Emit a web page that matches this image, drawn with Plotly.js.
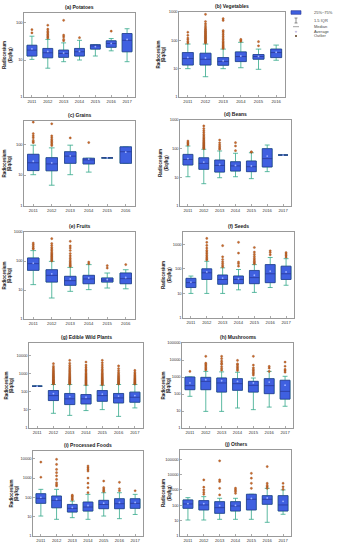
<!DOCTYPE html>
<html><head><meta charset="utf-8">
<script src="https://cdn.plot.ly/plotly-3.0.1.min.js"></script>
<style>html,body{margin:0;padding:0;background:#fff}#chart{width:337px;height:550px}</style>
</head><body><div id="chart"></div><script>
// ---------- DATA ----------
const years7 = ['2011','2012','2013','2014','2015','2016','2017'];
const years6 = ['2011','2012','2013','2014','2015','2016'];

// (a) Potatoes
const potQ1 = [12.8, 11.5, 11.8, 12.8, 19.7, 22, 16.7];
const potMed = [18.5, 15.7, 15, 16.7, 24, 28, 34];
const potQ3 = [25, 20.5, 18.5, 20.5, 26, 33, 52];
const potLo = [10.4, 6, 9, 10, 12.8, 17.7, 9];
const potHi = [44, 36, 29, 34, 26, 38, 70];
const potMean = [20, 17, 15.5, 17, 23, 28, 36];
const potOut = [[54,66],[39,42,46,50,55,60,68,87],[33,36,42,47,118],[40],[],[60],[]];

// (b) Vegetables
const vegQ1 = [13.5, 13.5, 13.2, 17.8, 21.6, 24.6];
const vegMed = [22.7, 21.5, 17.8, 26.8, 26.8, 37];
const vegQ3 = [37, 35, 24.6, 39, 31.6, 49];
const vegLo = [10, 5.2, 10, 10.8, 9.5, 19.8];
const vegHi = [74, 74, 49, 85, 49, 68];
const vegMean = [25, 24, 19, 28, 27, 38];
const vegOut = [[80,90,105,120,150,193],
  [80,85,90,96,102,110,118,126,135,145,155,168,180,195,210,230,250,280,320,380,460,826],
  [52,56,61,67,74,82,92,105,120,140,165,195,220,505,580],[92,100,108],[64,90],[]];

// (c) Grains
const graQ1 = [14, 13.8, 24, 23, 36, 24];
const graMed = [25, 23, 41, 31, 36, 57];
const graQ3 = [47, 36.6, 57, 35, 36, 82];
const graLo = [10.3, 4.7, 10.3, 12.5, 36, 24];
const graHi = [93, 76, 93, 35, 36, 82];
const graMean = [28, 25, 42, 33, 36, 55];
const graOut = [[112,120,133,160,185,218,516],[90,100,112,125,140,160,185,457],[159],[113],[],[]];

// (d) Beans
const beaQ1 = [27, 19, 15.3, 16.6, 15.8, 23, 60];
const beaMed = [42, 30.7, 26, 25, 23.5, 45, 60];
const beaQ3 = [63, 48, 40, 35, 37, 100, 60];
const beaLo = [10.5, 6, 9.7, 10.5, 9, 15.8, 60];
const beaHi = [124, 95, 83, 69, 72, 134, 60];
const beaMean = [45, 34, 28, 26, 25, 55, 60];
const beaOut = [[135,150,165,185],
  [100,106,112,120,128,137,147,158,170,185,200,220,245,275,310,360,420,500,620],
  [95,105,118,135,160,200],[85,124,162],[75,78],[],[]];

// (e) Fruits
const fruQ1 = [47.6, 18.8, 14.5, 16.5, 18.8, 16.5];
const fruMed = [81, 32, 21, 24, 22, 24.6];
const fruQ3 = [127, 50, 29.6, 32, 26, 38.5];
const fruLo = [15.3, 5.3, 9, 10.3, 11.7, 11];
const fruHi = [228, 97, 60, 75, 38.5, 50];
const fruMean = [85, 36, 24, 26, 23, 27];
const fruOut = [[260,280,320,366,417],
  [100,108,117,127,138,150,165,180,200,225,255,290,340,400,590],
  [65,70,77,85,95,108,125,150,180,230,280,330,477],[81,92],[57,69],[75]];

// (f) Seeds
const seeQ1 = [17.4, 37, 23.7, 25, 25, 27.5, 37];
const seeMed = [27.5, 69, 37, 37, 44, 63, 63];
const seeQ3 = [41, 100, 55.9, 51, 86, 149, 128];
const seeLo = [10, 10, 10, 14, 11, 17.4, 21.5];
const seeHi = [51, 203, 110, 94, 149, 290, 260];
const seeMean = [29, 75, 42, 40, 55, 80, 75];
const seeOut = [[],[230,260,300,350,410,480,560,700,900,1200,1740],[120,140,165,195,240,310,880],
  [128,163,190,437,1200],[160,180,200,230,270,320,390,480,740],[372,460,540],[300,350,400,460]];

// (g) Edible Wild Plants
const ewpQ1 = [206, 33, 19.8, 21.5, 30, 24.4, 26.6];
const ewpMed = [206, 62, 41, 41, 62, 46, 50];
const ewpQ3 = [206, 118, 81, 71, 118, 81, 96];
const ewpLo = [206, 6.5, 5, 9.2, 10.4, 4.4, 12.9];
const ewpHi = [206, 254, 254, 230, 230, 254, 254];
const ewpMean = [206, 80, 55, 50, 75, 58, 62];
const ewpOut = [[],
  [270,290,310,340,370,400,440,480,530,590,650,720,800,900,1000,1150,1300,1500,1750,2100,2600,3600],
  [270,290,320,350,380,420,460,510,570,640,720,820,950,1100,1300,1550,1850,2300,2900,3800,5500],
  [250,270,300,330,360,400,440,490,550,620,700,800,920,1050,1250,1500,1800,2300,3000,4450],
  [250,270,300,330,360,400,440,490,550,620,700,800,920,1050,1250,1500,1800,2300,3000,4000,5500],
  [270,290,320,350,390,430,480,540,610,700,800,950,1150,1450,1900,2700],
  [270,290,310,340,370,410,450,500,560,630,720,830,980,1200,1530]];

// (h) Mushrooms
const musQ1 = [180, 180, 130, 165, 130, 105, 50];
const musMed = [309, 555, 445, 405, 325, 309, 143];
const musQ3 = [1000, 950, 870, 800, 555, 800, 640];
const musLo = [73, 9.5, 9.5, 15, 12, 17, 19];
const musHi = [1000, 2140, 2000, 1900, 870, 2140, 1100];
const musMean = [450, 700, 600, 550, 450, 500, 330];
const musOut = [[2140],[2600,3100,3700,4500,5500,6500,16500],[2500,3100,4000,5500,6500,8500,12000,16500],
  [2400,2900,3500,4200,5200,6000,9500],[1300,1600,1900,2300,2800,3500,5000,16500],
  [2140,3300,4200],[1900,2300,2800,4300,7500]];

// (i) Processed Foods
const proQ1 = [49, 29, 17.4, 19.6, 26, 26, 27];
const proMed = [89, 70, 27, 31.6, 43, 47, 49];
const proQ3 = [155, 117, 43, 57, 70, 85, 85];
const proLo = [10.8, 7.3, 8.9, 7.3, 10.8, 7.9, 13];
const proHi = [260, 260, 64, 143, 174, 174, 143];
const proMean = [100, 80, 30, 38, 50, 55, 55];
const proOut = [[1100,6700],[390,470,570,850,1300,1900,2800,5100,9300],[75,85,100,115,130],
  [175,320,540,1000,2300,2800,3400,4200],[200,230,270,320,700],[220,280,600],[220]];

// (j) Others
const othQ1 = [63.5, 50, 30, 42.6, 50, 116, 42.6];
const othMed = [122, 105, 70, 90, 247, 247, 105];
const othQ3 = [223, 202, 172, 172, 520, 425, 425];
const othLo = [11, 11, 12.2, 12.2, 12.2, 7.8, 26];
const othHi = [315, 365, 285, 285, 520, 1270, 1000];
const othMean = [130, 130, 95, 100, 280, 300, 180];
const othOut = [[],[520,700,1000,1500,4500],[470,1270,3500,4500,78000],[600,800,1000,1300],
  [1270,2700,5800,12000],[1270,1600,2000,2700,33000],[1100,1600,2700]];

const panelTitles = ['(a) Potatoes','(b) Vegetables','(c) Grains','(d) Beans','(e) Fruits',
  '(f) Seeds','(g) Edible Wild Plants','(h) Mushrooms','(i) Processed Foods','(j) Others'];
const tickVals = [1,10,100,1000,10000,100000];
const tickText = ['1','10','100','1000','10000','100000'];

// ---------- PANELS ----------
const panels = [
  {years: years7, q1: potQ1, med: potMed, q3: potQ3, lo: potLo, hi: potHi, mean: potMean, out: potOut, top: 2.27, nt: 3},
  {years: years6, q1: vegQ1, med: vegMed, q3: vegQ3, lo: vegLo, hi: vegHi, mean: vegMean, out: vegOut, top: 3.0, nt: 4},
  {years: years6, q1: graQ1, med: graMed, q3: graQ3, lo: graLo, hi: graHi, mean: graMean, out: graOut, top: 2.75, nt: 3},
  {years: years7, q1: beaQ1, med: beaMed, q3: beaQ3, lo: beaLo, hi: beaHi, mean: beaMean, out: beaOut, top: 3.0, nt: 4},
  {years: years6, q1: fruQ1, med: fruMed, q3: fruQ3, lo: fruLo, hi: fruHi, mean: fruMean, out: fruOut, top: 3.0, nt: 4},
  {years: years7, q1: seeQ1, med: seeMed, q3: seeQ3, lo: seeLo, hi: seeHi, mean: seeMean, out: seeOut, top: 3.5, nt: 4},
  {years: years7, q1: ewpQ1, med: ewpMed, q3: ewpQ3, lo: ewpLo, hi: ewpHi, mean: ewpMean, out: ewpOut, top: 4.7, nt: 5},
  {years: years7, q1: musQ1, med: musMed, q3: musQ3, lo: musLo, hi: musHi, mean: musMean, out: musOut, top: 5.0, nt: 6},
  {years: years7, q1: proQ1, med: proMed, q3: proQ3, lo: proLo, hi: proHi, mean: proMean, out: proOut, top: 4.4, nt: 5},
  {years: years7, q1: othQ1, med: othMed, q3: othQ3, lo: othLo, hi: othHi, mean: othMean, out: othOut, top: 5.6, nt: 6}
];

// plot-area pixel boxes [x0, x1, y0(top), y1(bottom)] and y-label x positions
const W = 337, H = 550;
const boxesPx = [
  [24,135,13,97],[179,285,12,97],
  [24,135,121,206],[180,291,120,206],
  [24,135,232,319],[183,294,232,318],
  [29,143,343,428],[182,293,343,428],
  [33,143,451,536],[180,291,450,536]
];
const ylabX = [8,161, 7,163, 7,166, 9,166, 14,166];

const FONT = 'Liberation Sans, Arial, sans-serif';
const boxFill = '#3f60e0', boxLine = '#26348f', whisk = '#33a88a', outCol = '#cf6a28';

const data = [];
const layout = {
  width: W, height: H, margin: {l:0, r:0, t:0, b:0},
  paper_bgcolor: '#fff', plot_bgcolor: '#fff', showlegend: false,
  boxmode: 'overlay', font: {family: FONT, size: 4, color: '#333'},
  annotations: [], shapes: []
};

panels.forEach((p, i) => {
  const n = i + 1;
  const xa = 'x' + (n === 1 ? '' : n), ya = 'y' + (n === 1 ? '' : n);
  data.push({type: 'box', xaxis: xa, yaxis: ya, x: p.years,
    q1: p.q1, median: p.med, q3: p.q3, lowerfence: p.lo, upperfence: p.hi,
    width: 0.62, whiskerwidth: 0.5, line: {color: whisk, width: 0.8},
    fillcolor: 'rgba(0,0,0,0)', hoverinfo: 'skip'});
  data.push({type: 'box', xaxis: xa, yaxis: ya, x: p.years,
    q1: p.q1, median: p.med, q3: p.q3, lowerfence: p.q1, upperfence: p.q3,
    width: 0.62, whiskerwidth: 0, line: {color: boxLine, width: 0.7},
    fillcolor: boxFill, hoverinfo: 'skip'});
  data.push({type: 'scatter', mode: 'markers', xaxis: xa, yaxis: ya, x: p.years, y: p.mean,
    marker: {size: 1.8, color: '#9fb3ff'}, hoverinfo: 'skip'});
  const ox = [], oy = [];
  p.out.forEach((arr, k) => arr.forEach(v => { ox.push(p.years[k]); oy.push(v); }));
  data.push({type: 'scatter', mode: 'markers', xaxis: xa, yaxis: ya, x: ox, y: oy,
    marker: {size: 2.2, color: outCol, line: {width: 0.3, color: '#7a3a10'}}, hoverinfo: 'skip'});

  const b = boxesPx[i];
  const axX = {domain: [b[0]/W, b[1]/W], anchor: ya, type: 'category', categoryarray: p.years,
    range: [-0.5, p.years.length - 0.5], showline: true, mirror: true, linecolor: '#555', linewidth: 0.6,
    ticks: 'inside', ticklen: 2, tickcolor: '#555', tickwidth: 0.5, showgrid: false, zeroline: false,
    tickfont: {size: 4.2, family: FONT, color: '#333'}, fixedrange: true};
  const axY = {domain: [1 - b[3]/H, 1 - b[2]/H], anchor: xa, type: 'log', range: [0, p.top],
    tickvals: tickVals.slice(0, p.nt), ticktext: tickText.slice(0, p.nt),
    showline: true, mirror: true, linecolor: '#555', linewidth: 0.6,
    ticks: 'inside', ticklen: 2, tickcolor: '#555', tickwidth: 0.5, showgrid: false, zeroline: false,
    tickfont: {size: 4, family: FONT, color: '#333'}, fixedrange: true};
  layout['xaxis' + (n === 1 ? '' : n)] = axX;
  layout['yaxis' + (n === 1 ? '' : n)] = axY;

  layout.annotations.push({xref: 'paper', yref: 'paper', x: (b[0] + b[1]) / 2 / W, y: 1 - (b[2] - 6) / H,
    text: '<b>' + panelTitles[i] + '</b>', showarrow: false, xanchor: 'center', yanchor: 'middle',
    font: {size: 5, family: FONT, color: '#222'}});
  layout.annotations.push({xref: 'paper', yref: 'paper', x: ylabX[i] / W, y: 1 - (b[2] + b[3]) / 2 / H,
    text: '<b>Radiocesium<br>(Bq/kg)</b>', textangle: -90, showarrow: false, xanchor: 'center', yanchor: 'middle',
    font: {size: 4.5, family: FONT, color: '#222'}});
});

// legend (top-right)
const px = v => v / W, py = v => 1 - v / H;
layout.shapes.push({type: 'rect', xref: 'paper', yref: 'paper', x0: px(291), x1: px(301), y0: py(14.3), y1: py(10.7),
  fillcolor: boxFill, line: {color: boxLine, width: 0.6}});
layout.shapes.push({type: 'line', xref: 'paper', yref: 'paper', x0: px(296), x1: px(296), y0: py(23), y1: py(18), line: {color: '#444', width: 0.6}});
layout.shapes.push({type: 'line', xref: 'paper', yref: 'paper', x0: px(294.5), x1: px(297.5), y0: py(18), y1: py(18), line: {color: '#444', width: 0.6}});
layout.shapes.push({type: 'line', xref: 'paper', yref: 'paper', x0: px(294.5), x1: px(297.5), y0: py(23), y1: py(23), line: {color: '#444', width: 0.6}});
layout.shapes.push({type: 'line', xref: 'paper', yref: 'paper', x0: px(293), x1: px(299), y0: py(26.7), y1: py(26.7), line: {color: '#666', width: 0.6}});
layout.shapes.push({type: 'circle', xref: 'paper', yref: 'paper', x0: px(295.2), x1: px(296.8), y0: py(32.5), y1: py(30.9), fillcolor: '#9fb3ff', line: {color: '#c9a', width: 0.3}});
layout.shapes.push({type: 'circle', xref: 'paper', yref: 'paper', x0: px(295), x1: px(297), y0: py(37), y1: py(35), fillcolor: '#5a3a1a', line: {width: 0}});
const legTexts = ['25%~75%', '1.5 IQR', 'Median', 'Average', 'Outlier'];
const legY = [12.5, 20.5, 26.7, 31.7, 36];
legTexts.forEach((t, k) => layout.annotations.push({xref: 'paper', yref: 'paper', x: px(312), y: py(legY[k]),
  text: t, showarrow: false, xanchor: 'left', yanchor: 'middle', font: {size: 4, family: FONT, color: '#444'}}));

Plotly.newPlot('chart', data, layout, {staticPlot: true, displayModeBar: false});
</script></body></html>
